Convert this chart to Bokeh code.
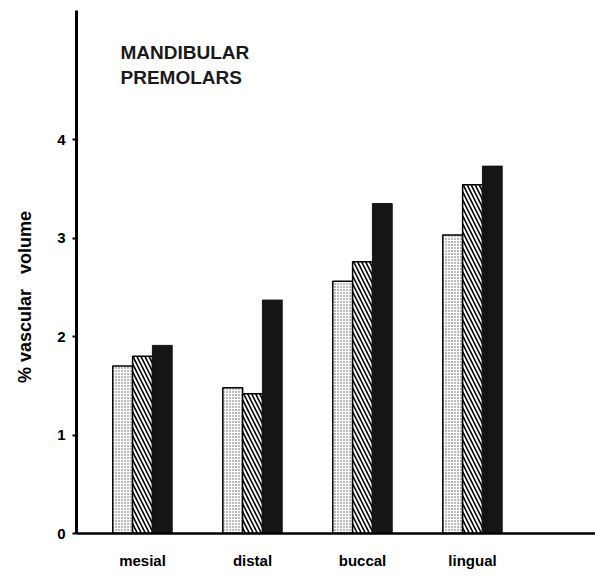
from bokeh.embed import file_html
from bokeh.models import ColumnDataSource, FixedTicker, Label, LinearAxis, Range1d
from bokeh.plotting import figure
from bokeh.resources import INLINE

# Vascular volume (%) per root surface, three series per surface
surfaces = ["mesial", "distal", "buccal", "lingual"]
series_dotted = [1.70, 1.48, 2.56, 3.03]
series_hatched = [1.80, 1.42, 2.76, 3.54]
series_black = [1.91, 2.37, 3.35, 3.73]
y_ticks = [0, 1, 2, 3, 4]

group_x = list(range(len(surfaces)))
bar_w = 0.18
offsets = [-bar_w, 0.0, bar_w]

p = figure(
    width=595, height=578,
    x_range=Range1d(-0.6, 4.118), y_range=Range1d(0, 5.31),
    output_backend="svg", toolbar_location=None,
    min_border_left=76, min_border_right=0, min_border_top=10, min_border_bottom=45,
)
p.outline_line_color = None
p.xgrid.grid_line_color = None
p.ygrid.grid_line_color = None
p.background_fill_color = "white"
p.border_fill_color = "white"

styles = [
    dict(fill_color="white", hatch_pattern="dot", hatch_scale=3, hatch_weight=1.2,
         hatch_color="#555555", line_color="black", line_width=1.5),
    dict(fill_color="white", hatch_pattern="left_diagonal_line", hatch_scale=8,
         hatch_weight=1.6, hatch_color="black", line_color="black", line_width=1.5),
    dict(fill_color="#151515", line_color="#151515", line_width=1),
]
for vals, off, st in zip([series_dotted, series_hatched, series_black], offsets, styles):
    src = ColumnDataSource(dict(x=[g + off for g in group_x], top=vals))
    p.vbar(x="x", top="top", bottom=0, width=bar_w, source=src, **st)

# y axis
p.yaxis.ticker = FixedTicker(ticks=y_ticks)
p.yaxis.axis_line_width = 3
p.yaxis.axis_line_color = "black"
p.yaxis.major_tick_line_width = 2
p.yaxis.major_tick_in = 0
p.yaxis.major_tick_out = 4
p.yaxis.minor_tick_line_color = None
p.yaxis.major_label_standoff = 7
p.yaxis.major_label_text_font = "Liberation Sans"
p.yaxis.major_label_text_font_style = "bold"
p.yaxis.major_label_text_font_size = "15px"
p.yaxis.major_label_text_color = "black"

# invisible companion axis that only carries the y label; trailing
# non-breaking spaces move the visible words below the frame centre
NBSP = "\u00a0"
label_axis = LinearAxis(
    ticker=FixedTicker(ticks=[]),
    axis_line_color=None, major_tick_line_color=None, minor_tick_line_color=None,
    axis_label="% vascular" + NBSP * 3 + "volume" + NBSP * 10, axis_label_standoff=20,
    axis_label_text_font="Liberation Sans", axis_label_text_font_style="bold",
    axis_label_text_font_size="18px", axis_label_text_color="black",
)
p.add_layout(label_axis, "left")

# x axis
p.xaxis.ticker = FixedTicker(ticks=group_x)
p.xaxis.major_label_overrides = {i: s for i, s in enumerate(surfaces)}
p.xaxis.axis_line_width = 2.5
p.xaxis.axis_line_color = "black"
p.xaxis.major_tick_line_color = None
p.xaxis.minor_tick_line_color = None
p.xaxis.major_label_standoff = 12
p.xaxis.major_label_text_font = "Liberation Sans"
p.xaxis.major_label_text_font_style = "bold"
p.xaxis.major_label_text_font_size = "15px"
p.xaxis.major_label_text_color = "black"

# panel title
for i, line in enumerate(["MANDIBULAR", "PREMOLARS"]):
    p.add_layout(Label(
        x=-0.2, y=4.99 - i * 0.255, text=line, text_font="Liberation Sans",
        text_font_style="bold", text_font_size="19px", text_baseline="top",
        text_align="left", text_color="#1a1a1a",
    ))

open("out.html", "w").write(file_html(p, INLINE))
